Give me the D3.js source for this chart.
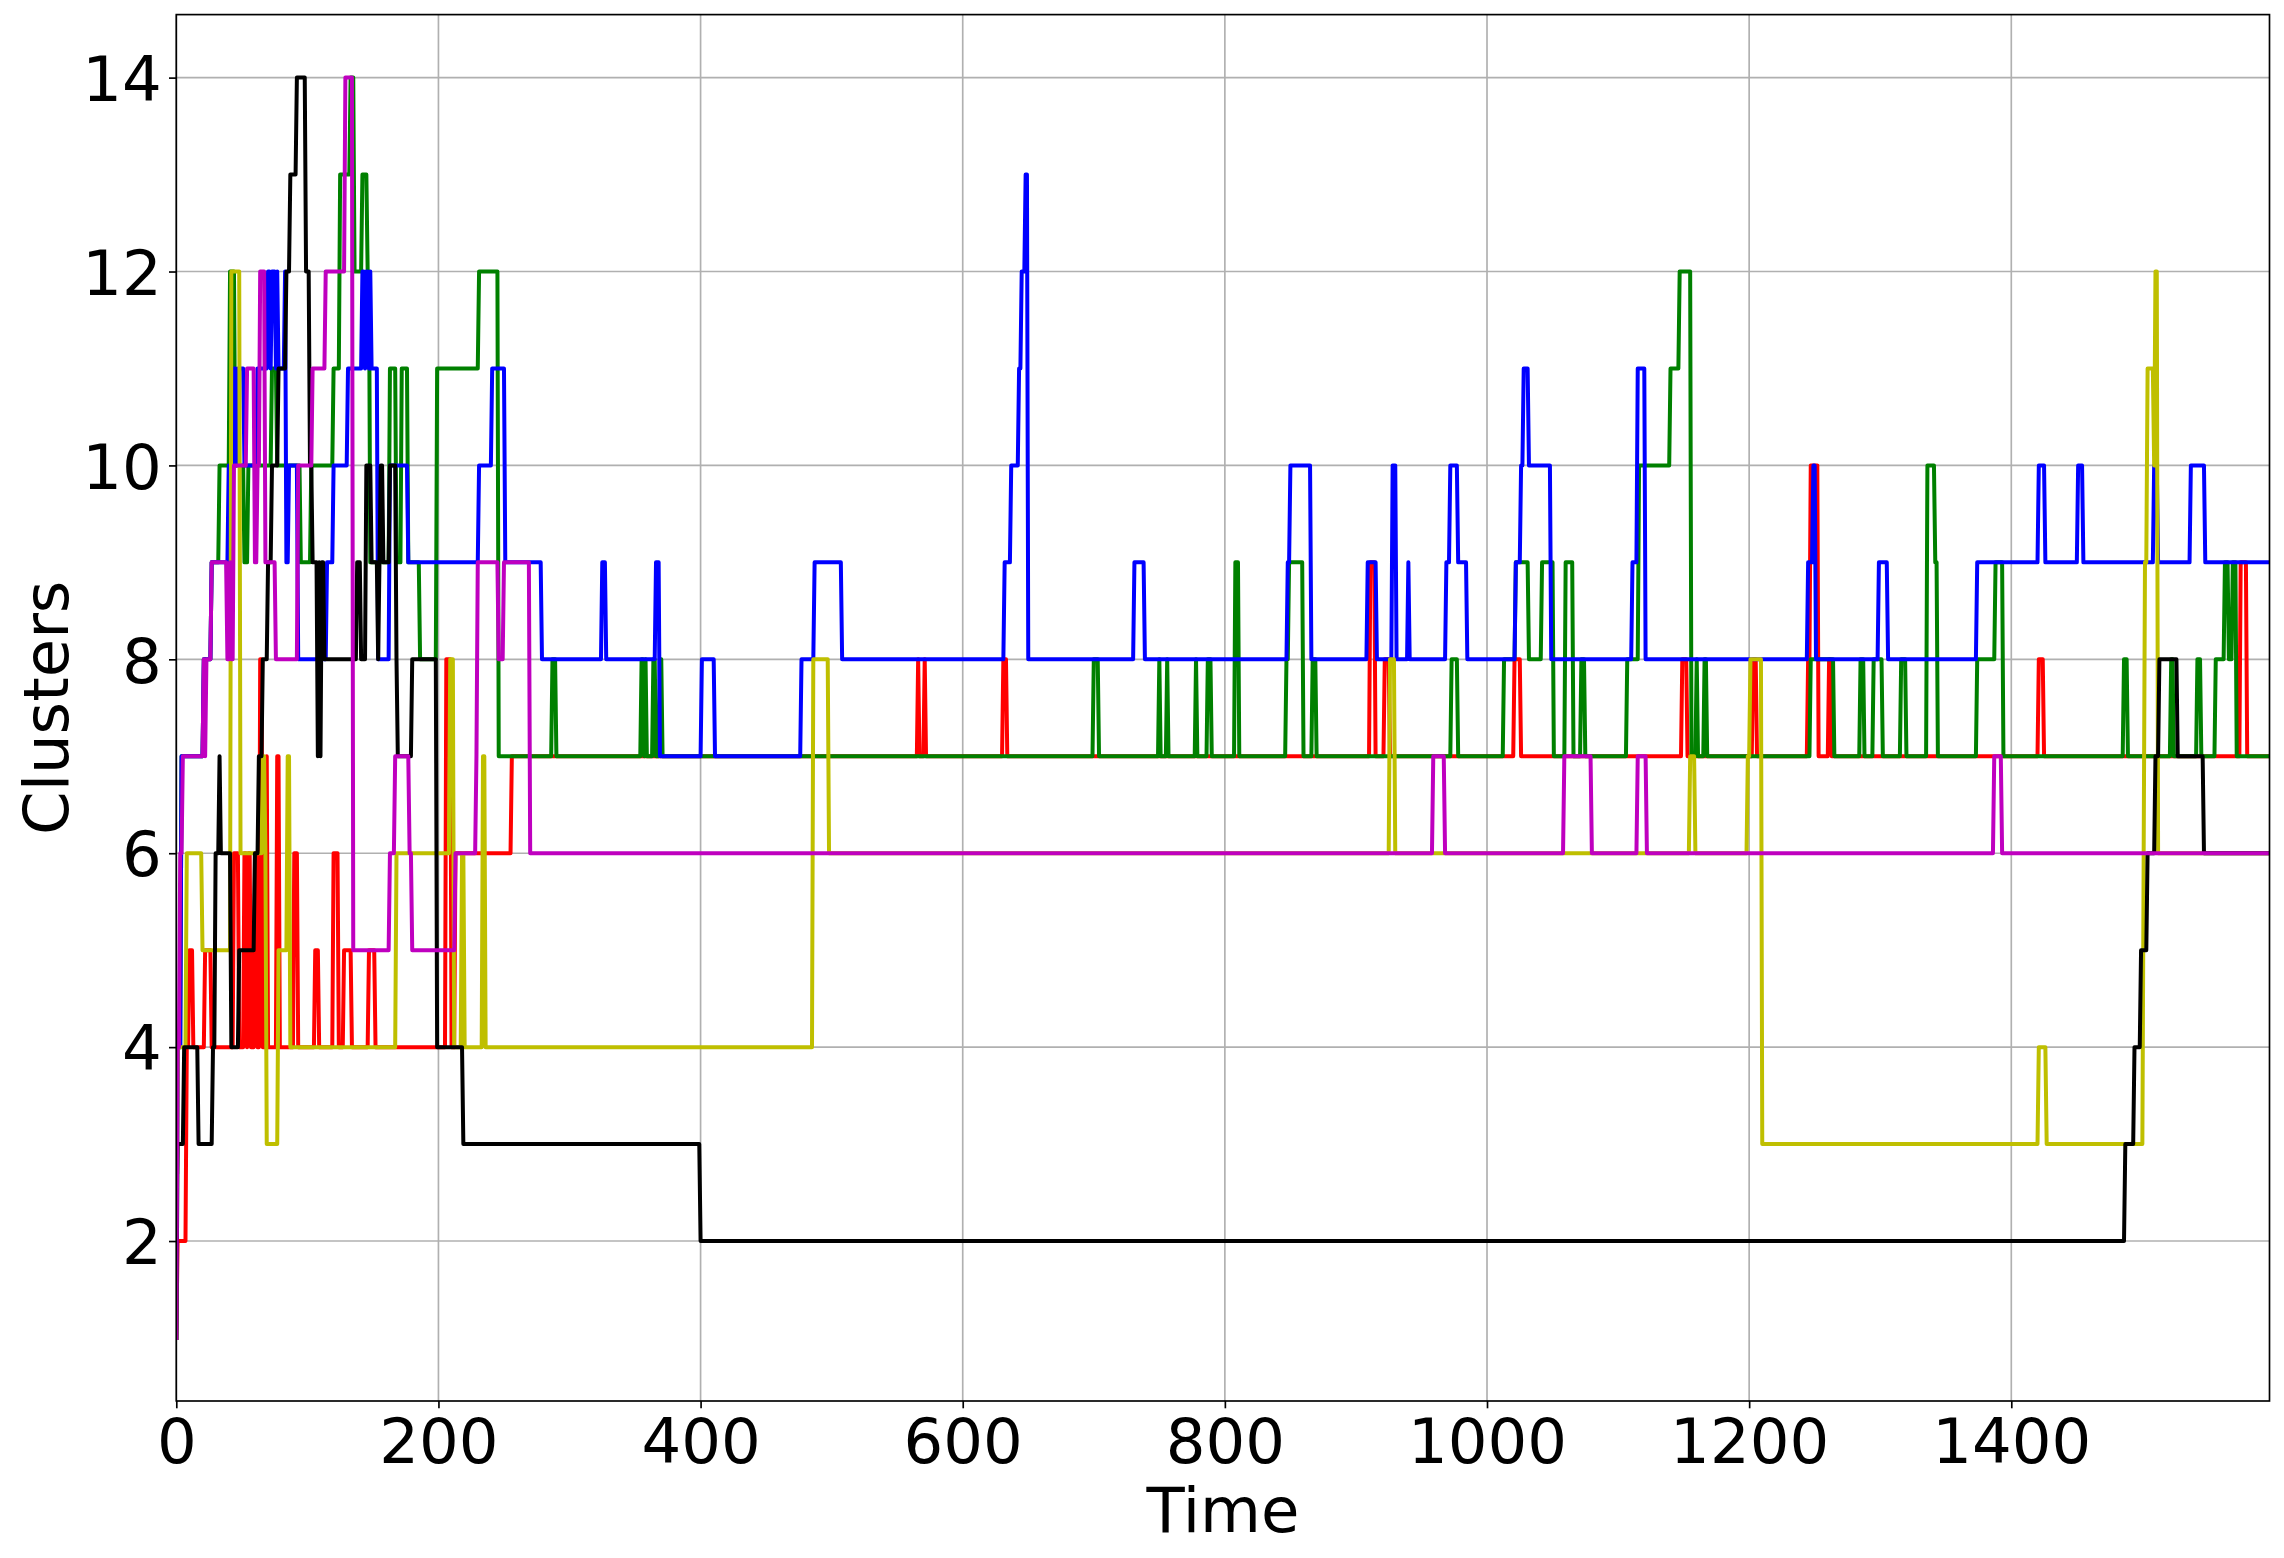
<!DOCTYPE html>
<html><head><meta charset="utf-8">
<script src="https://cdn.jsdelivr.net/npm/d3@7"></script>
<style>body{margin:0;background:#fff}svg{display:block}</style>
</head><body>
<svg id="chart" width="2284" height="1558"></svg>
<script>
// ---- data (change points: [time, clusters]; value holds until next change) ----
const xTickValues = [0, 200, 400, 600, 800, 1000, 1200, 1400];
const yTickValues = [2, 4, 6, 8, 10, 12, 14];
const lastTime = 1597;
const xLabel = "Time";
const yLabel = "Clusters";

const redSteps = [[0,1],[1,2],[8,4],[10,5],[13,4],[22,5],[27,4],[44,6],[48,4],[52,6],[54,4],[55,6],[57,4],[60,6],[62,4],[64,8],[66,4],[69,7],[70,4],[77,7],[79,4],[90,6],[93,4],[106,5],[109,4],[120,6],[124,4],[128,5],[134,4],[147,5],[152,4],[206,8],[210,4],[213,6],[256,7],[566,8],[567,7],[571,8],[572,7],[631,8],[634,7],[911,9],[915,7],[922,8],[926,7],[1021,8],[1026,7],[1149,8],[1153,7],[1203,8],[1206,7],[1245,8],[1247,10],[1253,7],[1261,8],[1263,7],[1421,8],[1425,7],[1575,9],[1580,7]];

const greenSteps = [[0,1],[1,4],[4,7],[21,8],[27,9],[33,10],[41,12],[45,10],[52,9],[55,10],[73,11],[77,10],[95,9],[103,10],[120,11],[125,13],[133,14],[136,12],[142,13],[146,12],[148,9],[163,11],[168,9],[172,11],[177,9],[186,8],[199,11],[231,12],[246,7],[287,8],[290,7],[355,8],[357,7],[358,8],[359,7],[364,8],[366,7],[369,8],[371,7],[700,8],[704,7],[750,8],[751,7],[756,8],[757,7],[778,8],[779,7],[787,8],[790,7],[808,9],[811,7],[847,8],[849,9],[860,7],[867,8],[870,7],[973,8],[978,7],[1013,8],[1022,9],[1032,8],[1042,9],[1051,7],[1060,9],[1066,7],[1072,8],[1075,7],[1107,8],[1116,10],[1140,11],[1147,12],[1156,7],[1160,8],[1161,7],[1166,8],[1168,7],[1247,8],[1265,7],[1285,8],[1288,7],[1295,8],[1302,7],[1316,8],[1320,7],[1336,10],[1342,9],[1344,7],[1374,8],[1388,9],[1394,7],[1486,8],[1489,7],[1522,8],[1524,7],[1542,8],[1545,7],[1556,8],[1563,9],[1566,8],[1569,9],[1572,7]];

const blueSteps = [[0,1],[1,4],[4,7],[21,8],[27,9],[40,10],[44,11],[46,10],[47,11],[52,10],[62,11],[70,12],[72,11],[73,12],[76,11],[77,12],[78,11],[83,12],[84,9],[86,10],[93,8],[115,9],[120,10],[131,11],[142,12],[144,11],[145,12],[147,11],[148,12],[149,11],[154,8],[163,10],[177,9],[231,10],[241,11],[251,9],[279,8],[325,9],[328,8],[366,9],[369,7],[401,8],[411,7],[477,8],[487,9],[508,8],[632,9],[637,10],[643,11],[645,12],[648,13],[650,8],[731,9],[739,8],[848,9],[850,10],[866,8],[909,9],[916,8],[928,10],[931,8],[940,9],[941,8],[969,9],[972,10],[978,9],[985,8],[1022,9],[1026,10],[1028,11],[1032,10],[1049,8],[1111,9],[1115,11],[1121,8],[1245,9],[1249,10],[1251,8],[1299,9],[1306,8],[1374,9],[1421,10],[1426,9],[1451,10],[1455,9],[1509,10],[1512,9],[1537,10],[1548,9]];

const yellowSteps = [[0,1],[1,4],[8,6],[20,5],[42,12],[49,6],[66,7],[68,6],[69,3],[78,5],[85,7],[87,4],[168,6],[209,8],[212,4],[218,6],[220,4],[234,7],[236,4],[486,8],[498,6],[926,8],[930,6],[1155,7],[1159,6],[1199,7],[1201,8],[1210,3],[1421,4],[1427,3],[1501,6],[1502,9],[1504,11],[1509,10],[1510,12],[1512,6]];

const blackSteps = [[0,1],[1,3],[6,4],[17,3],[28,4],[30,6],[33,7],[34,6],[42,4],[48,5],[60,6],[63,7],[66,8],[70,9],[73,10],[78,11],[84,12],[87,13],[92,14],[99,12],[102,10],[104,9],[108,7],[109,9],[110,7],[111,9],[113,8],[138,9],[141,8],[145,10],[149,9],[154,8],[155,9],[156,10],[158,9],[163,10],[168,8],[169,7],[180,8],[199,4],[219,3],[400,2],[1487,3],[1494,4],[1499,5],[1504,6],[1510,7],[1513,8],[1527,7],[1547,6]];

const magentaSteps = [[0,1],[1,4],[3,6],[5,7],[21,8],[22,7],[23,8],[27,9],[39,8],[41,9],[42,8],[44,10],[54,11],[60,9],[62,10],[64,12],[68,9],[76,8],[93,10],[104,11],[114,12],[129,14],[135,5],[163,6],[167,7],[178,6],[180,5],[213,6],[229,7],[230,9],[246,8],[250,9],[270,6],[959,7],[968,6],[1059,7],[1080,6],[1115,7],[1122,6],[1387,7],[1393,6]];

// drawing order and colours
const seriesList = [redSteps, greenSteps, blueSteps, yellowSteps, blackSteps, magentaSteps];
const seriesColors = ["#ff0000", "#008000", "#0000ff", "#bfbf00", "#000000", "#bf00bf"];

// ---- layout ----
const W = 2284, H = 1558;
const plot = {left: 176.3, right: 2269.5, top: 14.6, bottom: 1401};
const fontSize = 62.5;
const fontFamily = "'DejaVu Sans', sans-serif";

const svg = d3.select("#chart");
svg.append("rect").attr("width", W).attr("height", H).attr("fill", "#fff");

const x = d3.scaleLinear().domain([0, lastTime]).range([plot.left, plot.right]);
const y = d3.scaleLinear().domain([0.35, 14.65]).range([plot.bottom, plot.top]);

// grid
const grid = svg.append("g");
grid.selectAll("line.gx").data(xTickValues).join("line")
  .attr("x1", d => x(d)).attr("x2", d => x(d))
  .attr("y1", plot.top).attr("y2", plot.bottom)
  .attr("stroke", "#b0b0b0").attr("stroke-width", 1.67);
grid.selectAll("line.gy").data(yTickValues).join("line")
  .attr("y1", d => y(d)).attr("y2", d => y(d))
  .attr("x1", plot.left).attr("x2", plot.right)
  .attr("stroke", "#b0b0b0").attr("stroke-width", 1.67);

// series
function expand(steps) {
  const out = [];
  let k = 0;
  for (let t = 0; t <= lastTime; t++) {
    while (k + 1 < steps.length && steps[k + 1][0] <= t) k++;
    out.push([t, steps[k][1]]);
  }
  return out;
}
svg.append("clipPath").attr("id", "clip").append("rect")
  .attr("x", plot.left).attr("y", plot.top)
  .attr("width", plot.right - plot.left).attr("height", plot.bottom - plot.top);
const line = d3.line().x(d => x(d[0])).y(d => y(d[1]));
const lines = svg.append("g").attr("clip-path", "url(#clip)");
seriesList.forEach((s, i) => {
  lines.append("path").attr("d", line(expand(s)))
    .attr("fill", "none").attr("stroke", seriesColors[i])
    .attr("stroke-width", 4).attr("stroke-linejoin", "round").attr("stroke-linecap", "square");
});

// axes
const xAxis = d3.axisBottom(x).tickValues(xTickValues).tickSize(7.3).tickPadding(7.3).tickFormat(d3.format("d"));
const yAxis = d3.axisLeft(y).tickValues(yTickValues).tickSize(7.3).tickPadding(7.3).tickFormat(d3.format("d"));
const gx = svg.append("g").attr("transform", `translate(0,${plot.bottom})`).call(xAxis);
const gy = svg.append("g").attr("transform", `translate(${plot.left},0)`).call(yAxis);
[gx, gy].forEach(g => {
  g.select(".domain").remove();
  g.selectAll(".tick line").attr("stroke", "#000").attr("stroke-width", 1.67);
  g.selectAll(".tick text").attr("fill", "#000").attr("font-family", fontFamily).attr("font-size", fontSize);
});
gx.selectAll(".tick text").attr("dy", null).attr("y", 14.6 + 0.76 * fontSize).attr("dominant-baseline", "alphabetic");
gy.selectAll(".tick text").attr("dy", null).attr("y", 0.364 * fontSize).attr("dominant-baseline", "alphabetic");

// spines
svg.append("rect").attr("x", plot.left).attr("y", plot.top)
  .attr("width", plot.right - plot.left).attr("height", plot.bottom - plot.top)
  .attr("fill", "none").attr("stroke", "#000").attr("stroke-width", 1.67);

// axis labels
svg.append("text").attr("x", (plot.left + plot.right) / 2).attr("y", 1532)
  .attr("text-anchor", "middle").attr("font-family", fontFamily).attr("font-size", fontSize)
  .attr("fill", "#000").text(xLabel);
svg.append("text").attr("transform", `translate(68,${(plot.top + plot.bottom) / 2}) rotate(-90)`)
  .attr("text-anchor", "middle").attr("font-family", fontFamily).attr("font-size", fontSize)
  .attr("fill", "#000").text(yLabel);
</script>
</body></html>
